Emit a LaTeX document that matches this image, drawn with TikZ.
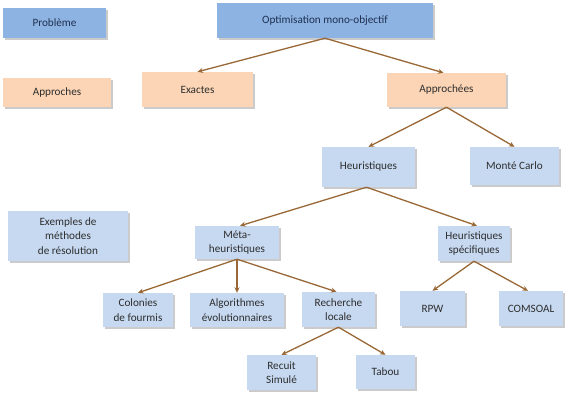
\documentclass[tikz,border=0pt]{standalone}
\usepackage{fontspec}
\setmainfont{Carlito}
\usetikzlibrary{arrows.meta,shadows}
\definecolor{darkblue}{HTML}{8DB3E2}
\definecolor{lightblue}{HTML}{C6D9F1}
\definecolor{peach}{HTML}{FBD5B5}
\definecolor{arrowbrown}{HTML}{9A6836}
\definecolor{txtgray}{HTML}{2E2E2E}
\definecolor{txtnavy}{HTML}{1F3050}
\begin{document}
\begin{tikzpicture}[x=1pt,y=-1pt,
  box/.style={rectangle, inner sep=0pt, align=center, text=txtgray,
    font=\fontsize{11.2}{14.5}\selectfont,
    drop shadow={shadow xshift=1.8pt, shadow yshift=-1.8pt, fill=black!45, opacity=0.45}},
  bluebox/.style={box, fill=darkblue, text=txtnavy},
  lbbox/.style={box, fill=lightblue},
  pbox/.style={box, fill=peach},
  arr/.style={draw=arrowbrown, line width=1.3pt, -{Stealth[length=5.5pt,width=5pt]}}
]
\useasboundingbox (0,0) rectangle (567,405);
\fill[white] (0,0) rectangle (567,405);

\node[bluebox, minimum width=103pt, minimum height=30pt] (prob) at (54.5,23) {Problème};
\node[bluebox, minimum width=216pt, minimum height=35pt] (opt) at (325,20.5) {Optimisation mono-objectif};
\node[pbox, minimum width=108pt, minimum height=29pt] (appr) at (57,92.5) {Approches};
\node[pbox, minimum width=111pt, minimum height=35pt] (exa) at (197.5,89.5) {Exactes};
\node[pbox, minimum width=119pt, minimum height=34pt] (apc) at (446.5,90) {Approchées};
\node[lbbox, minimum width=93pt, minimum height=40pt] (heu) at (368.5,167) {Heuristiques};
\node[lbbox, minimum width=89pt, minimum height=38pt] (mc) at (514.5,166) {Monté Carlo};
\node[lbbox, minimum width=120pt, minimum height=50pt] (ex) at (68,236) {Exemples de\\méthodes\\de résolution};
\node[lbbox, minimum width=84pt, minimum height=33pt] (meta) at (237,242.5) {Méta-\\heuristiques};
\node[lbbox, minimum width=72pt, minimum height=35pt] (hs) at (474,243.5) {Heuristiques\\spécifiques};
\node[lbbox, minimum width=70pt, minimum height=34pt] (col) at (138,310) {Colonies\\de fourmis};
\node[lbbox, minimum width=94pt, minimum height=34pt] (alg) at (237,310) {Algorithmes\\évolutionnaires};
\node[lbbox, minimum width=73pt, minimum height=35pt] (rl) at (338.5,309.5) {Recherche\\locale};
\node[lbbox, minimum width=65pt, minimum height=35pt] (rpw) at (432.5,308.5) {RPW};
\node[lbbox, minimum width=64pt, minimum height=35pt] (com) at (531,308.5) {COMSOAL};
\node[lbbox, minimum width=69pt, minimum height=35pt] (rec) at (281.5,372.5) {Recuit\\Simulé};
\node[lbbox, minimum width=59pt, minimum height=34pt] (tab) at (385.5,372) {Tabou};

\draw[arr] (opt.south) -- (exa.north);
\draw[arr] (opt.south) -- ([xshift=-3pt]apc.north);
\draw[arr] (apc.south) -- (heu.north);
\draw[arr] (apc.south) -- (mc.north);
\draw[arr] ([xshift=-2pt]heu.south) -- ([xshift=3pt]meta.north);
\draw[arr] ([xshift=-2pt]heu.south) -- ([xshift=3pt]hs.north);
\draw[arr] (meta.south) -- (col.north);
\draw[arr] (meta.south) -- (alg.north);
\draw[arr] (meta.south) -- ([xshift=-2pt]rl.north);
\draw[arr] (hs.south) -- (rpw.north);
\draw[arr] (hs.south) -- ([xshift=-3pt]com.north);
\draw[arr] (rl.south) -- (rec.north);
\draw[arr] (rl.south) -- (tab.north);
\end{tikzpicture}
\end{document}
